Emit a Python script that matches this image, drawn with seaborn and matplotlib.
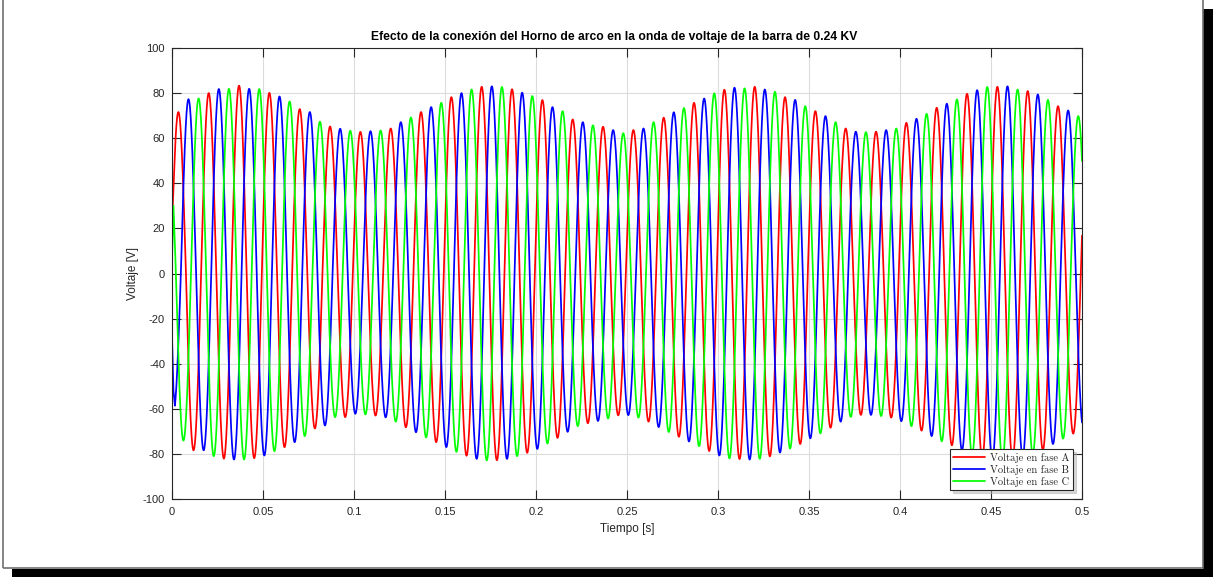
import numpy as np
import pandas as pd
import matplotlib
matplotlib.use("Agg")
import matplotlib.pyplot as plt
from matplotlib.patches import Rectangle
import seaborn as sns

# --- Signal description -------------------------------------------------
FRECUENCIA = 60.0        # Hz
T_PICO_A = 0.0035        # time of the first positive peak of phase A [s]
T_FIN = 0.5              # end of simulation [s]

# Peak magnitude [V] of every half-cycle, per phase, in time order
fase_a_pos = [71.6, 80.0, 83.3, 80.1, 72.9, 65.2, 62.8, 64.3, 71.6, 78.2,
              82.8, 81.7, 76.9, 68.3, 65.1, 63.6, 69.1, 75.7, 81.5, 82.8,
              78.2, 72.0, 64.3, 62.9, 66.8, 73.5, 79.7, 82.8, 80.9, 74.2, 67.5]
fase_a_neg = [78.4, 82.1, 81.9, 77.0, 68.7, 63.7, 63.0, 68.2, 74.8, 80.8,
              82.8, 79.5, 72.9, 66.4, 62.9, 65.7, 72.4, 78.7, 82.3, 81.1,
              75.6, 68.4, 62.7, 63.9, 69.7, 76.2, 82.0, 82.3, 78.2, 71.0]
fase_b_pos = [77.3, 81.8, 81.9, 78.5, 71.6, 64.2, 63.1, 67.1, 73.8, 80.0,
              83.0, 80.2, 73.8, 67.1, 63.6, 64.3, 71.5, 77.6, 82.4, 81.6,
              77.0, 69.8, 62.9, 63.6, 68.6, 75.3, 81.3, 83.0, 79.4, 72.3]
fase_b_neg = [62.0, 78.4, 82.5, 80.7, 74.8, 67.4, 62.2, 63.8, 70.4, 77.0,
              82.2, 82.2, 77.8, 70.2, 65.4, 62.8, 68.1, 74.5, 80.7, 82.5,
              79.4, 73.1, 65.7, 62.7, 65.5, 72.1, 78.4, 82.7, 81.2, 75.6, 68.6]
fase_c_pos = [70.0, 77.6, 81.9, 81.8, 76.3, 67.3, 63.3, 63.4, 69.2, 75.7,
              81.6, 82.7, 78.7, 72.0, 65.7, 62.2, 67.1, 73.4, 79.9, 82.1,
              80.6, 74.2, 67.1, 62.7, 64.3, 70.8, 77.2, 82.7, 81.6, 77.0, 69.8]
fase_c_neg = [74.1, 81.0, 82.5, 78.8, 72.1, 63.7, 62.5, 65.7, 72.7, 79.1,
              82.9, 81.0, 75.4, 67.7, 64.3, 63.9, 70.3, 76.6, 82.0, 82.2,
              77.6, 70.9, 63.6, 63.2, 67.7, 74.4, 80.5, 82.9, 80.1, 73.2]

# Start-up samples (before the waveform settles)
inicio_t = [0.0, 0.0008]
inicio_a = [22.0, 38.0]
inicio_b = [-28.0, -52.0]
inicio_c = [6.0, 30.0]

fases = ["Voltaje en fase A", "Voltaje en fase B", "Voltaje en fase C"]
colores = ["#ff0000", "#0000ff", "#00ff00"]

x_ticks = [0, 0.05, 0.1, 0.15, 0.2, 0.25, 0.3, 0.35, 0.4, 0.45, 0.5]
x_labels = ["0", "0.05", "0.1", "0.15", "0.2", "0.25", "0.3", "0.35", "0.4", "0.45", "0.5"]
y_ticks = [-100, -80, -60, -40, -20, 0, 20, 40, 60, 80, 100]

# --- Build the waveforms: each half-cycle is a cosine lobe of given peak --
T = 1.0 / FRECUENCIA
t_est = np.linspace(inicio_t[-1] + 0.0008, T_FIN, 20000)


def onda(t, pos, neg, t_pos0, t_neg0):
    pos = np.asarray(pos)
    neg = np.asarray(neg)
    tp = np.concatenate([t_pos0 + np.arange(len(pos)) * T,
                         t_neg0 + np.arange(len(neg)) * T])
    mp = np.concatenate([pos, -neg])
    orden = np.argsort(tp)
    tp, mp = tp[orden], mp[orden]
    idx = np.abs(t[:, None] - tp[None, :]).argmin(axis=1)
    return mp[idx] * np.cos(2 * np.pi * FRECUENCIA * (t - tp[idx]))


v_a = onda(t_est, fase_a_pos, fase_a_neg, T_PICO_A, T_PICO_A + T / 2)
v_b = onda(t_est, fase_b_pos, fase_b_neg, T_PICO_A + T / 3, T_PICO_A - T / 6)
v_c = onda(t_est, fase_c_pos, fase_c_neg, T_PICO_A - T / 3, T_PICO_A + T / 6)

frames = []
for nombre, ini, v in zip(fases, [inicio_a, inicio_b, inicio_c], [v_a, v_b, v_c]):
    frames.append(pd.DataFrame({
        "Tiempo": np.concatenate([inicio_t, t_est]),
        "Voltaje": np.concatenate([ini, v]),
        "Fase": nombre,
    }))
df = pd.concat(frames, ignore_index=True)

# --- Figure -------------------------------------------------------------
sns.set_style("ticks")
plt.rcParams["font.family"] = ["Liberation Sans", "DejaVu Sans"]
plt.rcParams["axes.unicode_minus"] = False

W, H = 1213, 577
fig = plt.figure(figsize=(W / 100, H / 100), dpi=100)
fig.patch.set_facecolor("white")

# page border with drop shadow
fig.patches.append(Rectangle((12 / W, 0), 1 - 12 / W, 8.5 / H, transform=fig.transFigure,
                             facecolor="black", edgecolor="none", zorder=0))
fig.patches.append(Rectangle((1202.8 / W, 0), 1 - 1202.8 / W, (H - 9) / H, transform=fig.transFigure,
                             facecolor="black", edgecolor="none", zorder=0))
fig.patches.append(Rectangle((2.5 / W, (H - 568) / H), 1200.3 / W, 580 / H, transform=fig.transFigure,
                             facecolor="none", edgecolor="#707070", linewidth=1.2, zorder=1))

ax = fig.add_axes([172 / W, (H - 499) / H, 910 / W, 451 / H])
ax.set_facecolor("white")

sns.lineplot(data=df, x="Tiempo", y="Voltaje", hue="Fase", palette=colores,
             hue_order=fases, estimator=None, sort=False, linewidth=1.25, ax=ax)

ax.set_xlim(0, 0.5)
ax.set_ylim(-100, 100)
ax.set_xticks(x_ticks)
ax.set_xticklabels(x_labels)
ax.set_yticks(y_ticks)
ax.grid(True, color="#dcdcdc", linewidth=0.8)
ax.set_axisbelow(True)

gris = "#262626"
for s in ax.spines.values():
    s.set_visible(True)
    s.set_color(gris)
    s.set_linewidth(0.8)
ax.tick_params(direction="in", length=6.5, width=0.8, color=gris, labelcolor=gris,
               labelsize=8, top=True, right=True)
ax.tick_params(axis="x", pad=6)
ax.tick_params(axis="y", pad=5)

ax.set_xlabel("Tiempo [s]", fontsize=8.5, color=gris, labelpad=4)
ax.set_ylabel("Voltaje [V]", fontsize=8.5, color=gris, labelpad=3)
ax.set_title("Efecto de la conexión del Horno de arco en la onda de voltaje de la barra de 0.24 KV",
             fontsize=8.7, fontweight="bold", color="black", pad=6, x=(614 - 172) / 910)

leg = ax.legend(loc="lower right", bbox_to_anchor=(0.99, 0.02), borderaxespad=0,
                prop={"family": "cmr10", "size": 7.6}, handlelength=3.0, handletextpad=0.5,
                labelspacing=0.2, borderpad=0.3, fancybox=False, framealpha=1,
                edgecolor=gris, shadow={"color": "0.7", "alpha": 0.5})
leg.get_frame().set_linewidth(0.8)
for line in leg.get_lines():
    line.set_linewidth(1.25)

fig.savefig("out.png", dpi=100, facecolor="white")
